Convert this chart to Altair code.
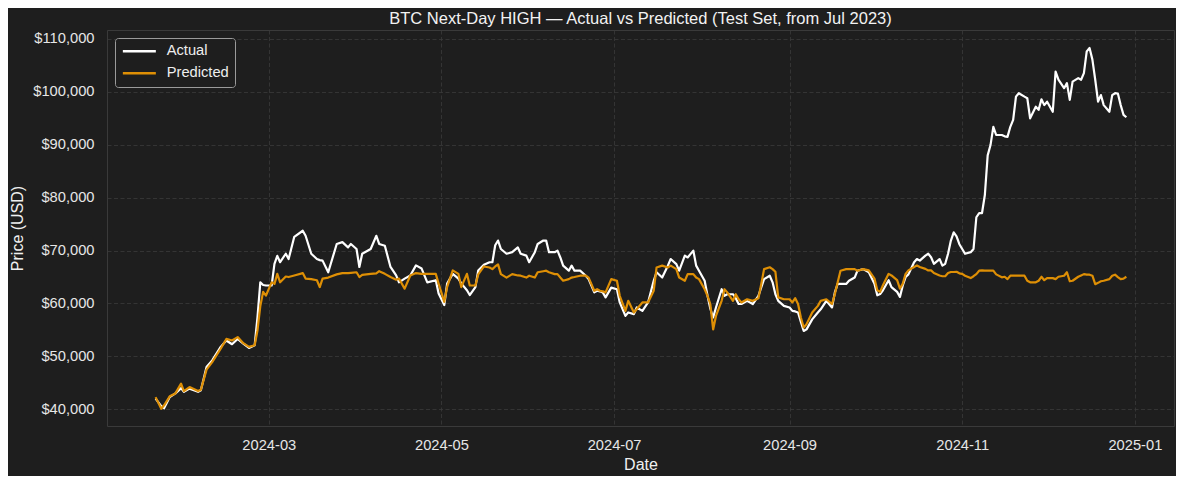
import altair as alt
import pandas as pd

dates = [
    "2024-01-21", "2024-01-23", "2024-01-24", "2024-01-26", "2024-01-28", "2024-01-30", "2024-01-31",
    "2024-02-02", "2024-02-05", "2024-02-06", "2024-02-08", "2024-02-10", "2024-02-13", "2024-02-15",
    "2024-02-17", "2024-02-19", "2024-02-21", "2024-02-23", "2024-02-25", "2024-02-26", "2024-02-27",
    "2024-02-28", "2024-02-29", "2024-03-02", "2024-03-03", "2024-03-04", "2024-03-05", "2024-03-07",
    "2024-03-08", "2024-03-10", "2024-03-13", "2024-03-14", "2024-03-16", "2024-03-18", "2024-03-19",
    "2024-03-20", "2024-03-22", "2024-03-25", "2024-03-27", "2024-03-29", "2024-03-30", "2024-04-01",
    "2024-04-02", "2024-04-03", "2024-04-06", "2024-04-08", "2024-04-09", "2024-04-11", "2024-04-13",
    "2024-04-15", "2024-04-16", "2024-04-18", "2024-04-20", "2024-04-22", "2024-04-24", "2024-04-26",
    "2024-04-29", "2024-04-30", "2024-05-02", "2024-05-03", "2024-05-05", "2024-05-07", "2024-05-08",
    "2024-05-10", "2024-05-11", "2024-05-13", "2024-05-14", "2024-05-16", "2024-05-18", "2024-05-19",
    "2024-05-20", "2024-05-21", "2024-05-22", "2024-05-24", "2024-05-26", "2024-05-28", "2024-05-29",
    "2024-05-31", "2024-06-01", "2024-06-03", "2024-06-04", "2024-06-06", "2024-06-07", "2024-06-08",
    "2024-06-10", "2024-06-11", "2024-06-12", "2024-06-13", "2024-06-15", "2024-06-16", "2024-06-17",
    "2024-06-19", "2024-06-21", "2024-06-22", "2024-06-24", "2024-06-25", "2024-06-26", "2024-06-27",
    "2024-06-28", "2024-06-30", "2024-07-02", "2024-07-03", "2024-07-05", "2024-07-06", "2024-07-08",
    "2024-07-09", "2024-07-11", "2024-07-13", "2024-07-15", "2024-07-16", "2024-07-18", "2024-07-20",
    "2024-07-21", "2024-07-23", "2024-07-24", "2024-07-26", "2024-07-27", "2024-07-29", "2024-07-30",
    "2024-07-31", "2024-08-02", "2024-08-03", "2024-08-04", "2024-08-05", "2024-08-06", "2024-08-08",
    "2024-08-09", "2024-08-10", "2024-08-12", "2024-08-13", "2024-08-14", "2024-08-15", "2024-08-17",
    "2024-08-19", "2024-08-21", "2024-08-22", "2024-08-23", "2024-08-25", "2024-08-26", "2024-08-27",
    "2024-08-28", "2024-08-30", "2024-09-01", "2024-09-02", "2024-09-03", "2024-09-04", "2024-09-05",
    "2024-09-06", "2024-09-07", "2024-09-09", "2024-09-11", "2024-09-12", "2024-09-14", "2024-09-16",
    "2024-09-17", "2024-09-18", "2024-09-19", "2024-09-21", "2024-09-22", "2024-09-24", "2024-09-25",
    "2024-09-27", "2024-09-29", "2024-10-01", "2024-10-02", "2024-10-03", "2024-10-04", "2024-10-06",
    "2024-10-07", "2024-10-09", "2024-10-10", "2024-10-11", "2024-10-12", "2024-10-13", "2024-10-15",
    "2024-10-16", "2024-10-17", "2024-10-19", "2024-10-20", "2024-10-21", "2024-10-22", "2024-10-24",
    "2024-10-25", "2024-10-26", "2024-10-27", "2024-10-28", "2024-10-29", "2024-10-30", "2024-10-31",
    "2024-11-01", "2024-11-02", "2024-11-04", "2024-11-05", "2024-11-06", "2024-11-07", "2024-11-08",
    "2024-11-09", "2024-11-10", "2024-11-11", "2024-11-12", "2024-11-13", "2024-11-15", "2024-11-16",
    "2024-11-17", "2024-11-18", "2024-11-19", "2024-11-20", "2024-11-21", "2024-11-23", "2024-11-24",
    "2024-11-25", "2024-11-27", "2024-11-28", "2024-11-29", "2024-11-30", "2024-12-01", "2024-12-03",
    "2024-12-04", "2024-12-05", "2024-12-07", "2024-12-08", "2024-12-09", "2024-12-10", "2024-12-12",
    "2024-12-13", "2024-12-14", "2024-12-15", "2024-12-16", "2024-12-17", "2024-12-18", "2024-12-19",
    "2024-12-20", "2024-12-21", "2024-12-23", "2024-12-24", "2024-12-25", "2024-12-26", "2024-12-27",
    "2024-12-28", "2024-12-29",
]

actual = [
    42000, 40600, 40200, 42300, 43000, 44000, 43300,
    43900, 43300, 43600, 48000, 49250, 51800, 53000,
    52300, 53300, 52400, 51600, 52100, 57400, 64000,
    63500, 63400, 63400, 67500, 69000, 67800, 69400,
    68400, 72600, 73750, 72800, 69400, 68400, 68200,
    68100, 65900, 71250, 71600, 70600, 71250, 70300,
    66900, 69400, 70300, 72800, 71250, 70900, 66900,
    65300, 64000, 64700, 65300, 67200, 66600, 64000,
    64400, 61900, 59700, 63750, 65600, 64700, 63800,
    62500, 61600, 63100, 66250, 67300, 67800, 67800,
    71000, 71900, 70300, 69400, 69700, 70600, 69400,
    69050, 67800, 69700, 71250, 71900, 71900, 69700,
    69700, 70000, 68700, 67150, 66200, 67150, 66200,
    66200, 65250, 64600, 62100, 62400, 62300, 62100,
    61150, 63000, 62700, 60200, 57650, 58300, 58000,
    59250, 58600, 60200, 64300, 65900, 64900, 67150,
    68400, 67450, 66200, 69050, 68700, 70000, 67150,
    66200, 64300, 61500, 59000, 57350, 59250, 62700,
    61450, 61750, 61750, 61000, 59900, 59900, 60500,
    59900, 61450, 63050, 64600, 65250, 64000, 61750,
    60500, 59550, 59250, 58600, 58500, 58300, 56500,
    54800, 55100, 57000, 58300, 58900, 60500, 59250,
    62100, 63700, 63700, 63700, 64300, 64900, 66200,
    66500, 65900, 63750, 61550, 61800, 62500, 64400,
    63100, 62200, 61250, 63400, 65000, 65500, 67800,
    68400, 68100, 69050, 69400, 68750, 67500, 68400,
    67150, 67500, 69400, 71900, 73450, 72700, 71200,
    70300, 69400, 69700, 70300, 76300, 77100, 77100,
    80500, 88000, 89950, 93400, 91850, 91850, 91600,
    91500, 93400, 94700, 99100, 99750, 99100, 98800,
    95000, 97200, 96600, 98600, 97500, 98150, 96250,
    103850, 102300, 100700, 101650, 98500, 101950, 102600,
    102300, 103550, 107650, 108300, 106100, 102300, 98150,
    99400, 97500, 96250, 99400, 99750, 99700, 97500,
    95650, 95200,
]

predicted = [
    42300, 40100, 40750, 42450, 43000, 44850, 43450,
    44200, 43450, 43700, 47500, 48900, 51450, 53300,
    53000, 53650, 52500, 51800, 52100, 54900, 59500,
    62200, 61500, 64000, 63700, 65600, 64000, 65100,
    65000, 65300, 65750, 64700, 64600, 64400, 63100,
    64700, 64900, 65500, 65750, 65750, 65800, 65900,
    65000, 65400, 65600, 65700, 66100, 65600, 65000,
    64500, 64700, 62800, 65300, 65750, 65600, 65600,
    65600, 63750, 60300, 63100, 66250, 65600, 63100,
    65600, 63400, 63400, 65500, 67000, 66800, 66500,
    67000, 67400, 65550, 64900, 65550, 65300, 65250,
    64900, 65250, 64900, 65900, 66100, 66200, 65900,
    65550, 65550, 64900, 64300, 64600, 64900, 65000,
    65250, 65250, 64900, 62400, 62700, 62400, 62300,
    62100, 64600, 64300, 61450, 58600, 60500, 58300,
    58900, 60200, 60200, 62400, 66800, 67150, 66800,
    67150, 66500, 64900, 64300, 65550, 65550, 64900,
    64600, 62700, 61450, 59900, 55100, 57650, 60500,
    62700, 62100, 60500, 61750, 60800, 60200, 60800,
    60500, 61000, 63700, 66500, 66850, 66500, 66000,
    61150, 60800, 60800, 60200, 61000, 59900, 57350,
    55450, 56100, 58300, 59550, 60500, 60800, 59900,
    61750, 64000, 66200, 66500, 66500, 66500, 66200,
    66500, 66250, 64700, 62500, 62200, 63450, 65600,
    65300, 64400, 62800, 63750, 65600, 66250, 66900,
    67200, 66900, 66550, 66250, 66250, 65750, 65300,
    65150, 65150, 65750, 65950, 65950, 66000, 65700,
    65600, 65250, 64800, 65150, 65550, 66200, 66250,
    66200, 66200, 66200, 66200, 65500, 64950, 65050,
    64600, 65250, 65250, 65250, 65250, 65250, 64300,
    64000, 64000, 64300, 65050, 64400, 64800, 64800,
    64600, 65050, 65250, 65900, 64200, 64300, 65050,
    65300, 65550, 65450, 65450, 65250, 63650, 63900,
    64200, 64300, 64600, 65250, 65450, 65000, 64600,
    64700, 65050,
]

series_names = ["Actual", "Predicted"]
series_colors = ["#ffffff", "#de8f05"]
y_ticks = [40000, 50000, 60000, 70000, 80000, 90000, 100000, 110000]
x_ticks = [(2024, 3), (2024, 5), (2024, 7), (2024, 9), (2024, 11), (2025, 1)]

df = pd.concat([
    pd.DataFrame({"date": dates, "series": "Actual", "value": actual}),
    pd.DataFrame({"date": dates, "series": "Predicted", "value": predicted}),
], ignore_index=True)

FONT = "Liberation Sans"
BG = "#1e1e1e"

x_values = [alt.DateTime(year=y, month=m, date=1, utc=True) for y, m in x_ticks]

chart = alt.Chart(df).mark_line(strokeWidth=2.2, strokeJoin="round").encode(
    x=alt.X(
        "date:T",
        scale=alt.Scale(
            type="utc",
            domain=[
                alt.DateTime(year=2024, month=1, date=3, hours=20, utc=True),
                alt.DateTime(year=2025, month=1, date=14, hours=20, utc=True),
            ],
        ),
        axis=alt.Axis(title="Date", format="%Y-%m", values=x_values, labelPadding=11, titlePadding=5),
    ),
    y=alt.Y(
        "value:Q",
        scale=alt.Scale(domain=[36840, 111700], nice=False, zero=False),
        axis=alt.Axis(title="Price (USD)", format="$,.0f", values=y_ticks, labelPadding=13, titlePadding=7),
    ),
    color=alt.Color(
        "series:N",
        scale=alt.Scale(domain=series_names, range=series_colors),
        legend=alt.Legend(
            title=None,
            orient="top-left",
            offset=8,
            strokeColor="#9a9a9a",
            fillColor=BG,
            padding=6,
            cornerRadius=3,
            labelFont=FONT,
            labelFontSize=14.7,
            labelColor="#eeeeee",
            labelOffset=31,
            symbolType="M-1,0H5",
            symbolSize=121,
            symbolStrokeWidth=2.5,
            rowPadding=6,
        ),
    ),
).properties(
    width=1067,
    height=396,
    autosize=alt.AutoSizeParams(type="none"),
    padding={"left": 99, "top": 22, "right": 2, "bottom": 50},
    background=BG,
    title=alt.TitleParams(
        text="BTC Next-Day HIGH \u2014 Actual vs Predicted (Test Set, from Jul 2023)",
        font=FONT,
        fontSize=16.5,
        fontWeight="normal",
        color="#f2f2f2",
        anchor="middle",
        offset=3,
    ),
).configure_view(
    stroke="#3a3a3a",
    strokeWidth=1,
).configure_axis(
    labelFont=FONT,
    labelFontSize=14.7,
    labelColor="#e6e6e6",
    titleFont=FONT,
    titleFontSize=16,
    titleFontWeight="normal",
    titleColor="#f0f0f0",
    ticks=False,
    domain=False,
    gridColor="#3a3a3a",
    gridDash=[4, 2.5],
    gridWidth=0.8,
)

chart.save("out.html", embed_options={"renderer": "svg", "actions": False})
